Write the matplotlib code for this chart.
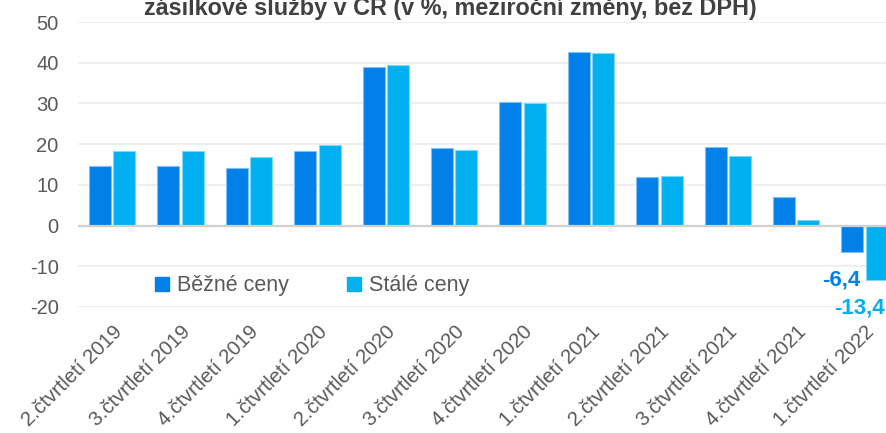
import matplotlib
matplotlib.use("Agg")
import matplotlib.pyplot as plt
from matplotlib.lines import Line2D
import numpy as np

categories = ["2.čtvrtletí 2019", "3.čtvrtletí 2019", "4.čtvrtletí 2019",
              "1.čtvrtletí 2020", "2.čtvrtletí 2020", "3.čtvrtletí 2020",
              "4.čtvrtletí 2020", "1.čtvrtletí 2021", "2.čtvrtletí 2021",
              "3.čtvrtletí 2021", "4.čtvrtletí 2021", "1.čtvrtletí 2022"]
bezne = [14.6, 14.6, 14.2, 18.3, 38.9, 19.1, 30.3, 42.6, 11.9, 19.3, 6.9, -6.4]
stale = [18.3, 18.3, 16.9, 19.8, 39.4, 18.6, 30.0, 42.4, 12.2, 17.1, 1.4, -13.4]
series_names = ["Běžné ceny", "Stálé ceny"]
title_text = "zásilkové služby v ČR (v %, meziroční změny, bez DPH)"
yticks = [-20, -10, 0, 10, 20, 30, 40, 50]

c_bez = "#0080E8"
c_sta = "#00B0F0"
grey = "#595959"

plt.rcParams['font.family'] = ['Liberation Sans', 'DejaVu Sans']

W, H = 886, 433
fig = plt.figure(figsize=(W/100, H/100), dpi=100)
ax = fig.add_axes([78/W, (H-307)/H, 12*68.4/W, (307-22)/H])

x = np.arange(len(categories))
bw = 0.32
off = 0.178
ax.bar(x - off, bezne, bw, color=c_bez, edgecolor="#7fc0f5", linewidth=0.8, zorder=3)
ax.bar(x + off, stale, bw, color=c_sta, edgecolor="#80d8f8", linewidth=0.8, zorder=3)

ax.set_xlim(-0.5, len(categories) - 0.5)
ax.set_ylim(-20, 50)
ax.set_yticks(yticks)
ax.set_yticklabels([str(v) for v in yticks], fontsize=14.5, color=grey)
ax.tick_params(axis='y', length=0, pad=14)
ax.set_xticks(x)
ax.set_xticklabels(categories, rotation=45, ha='right', rotation_mode='anchor',
                   fontsize=14.7, color=grey)
ax.tick_params(axis='x', length=0, pad=11)

for v in yticks:
    if v == 0:
        ax.axhline(0, color="#d0d0d0", lw=1.6, zorder=4)
    else:
        ax.axhline(v, color="#efefef", lw=1.5, zorder=1)
for s in ax.spines.values():
    s.set_visible(False)

# data labels for last quarter
ax.annotate(f"{bezne[-1]:.1f}".replace(".", ","), (x[-1] - off, bezne[-1]),
            xytext=(-11, -28), textcoords='offset pixels', ha='center', va='center',
            fontsize=16, fontweight='bold', color=c_bez, annotation_clip=False)
ax.annotate(f"{stale[-1]:.1f}".replace(".", ","), (x[-1] + off, stale[-1]),
            xytext=(-17, -28), textcoords='offset pixels', ha='center', va='center',
            fontsize=16, fontweight='bold', color=c_sta, annotation_clip=False)

handles = [Line2D([], [], marker='s', linestyle='none', markersize=9.5, color=c_bez),
           Line2D([], [], marker='s', linestyle='none', markersize=9.5, color=c_sta)]
fig.legend(handles, series_names, loc='center left', bbox_to_anchor=(134/W, 1 - 286/H),
           ncol=2, frameon=False, fontsize=15.5, handlelength=0.8, handletextpad=0.3,
           columnspacing=2.6, labelcolor=grey)

fig.text(450/W, 1 - 15/H, title_text, ha='center', va='baseline', fontsize=16.8,
         fontweight='bold', color="#404040")

fig.savefig("out.png", dpi=100, facecolor='white')
